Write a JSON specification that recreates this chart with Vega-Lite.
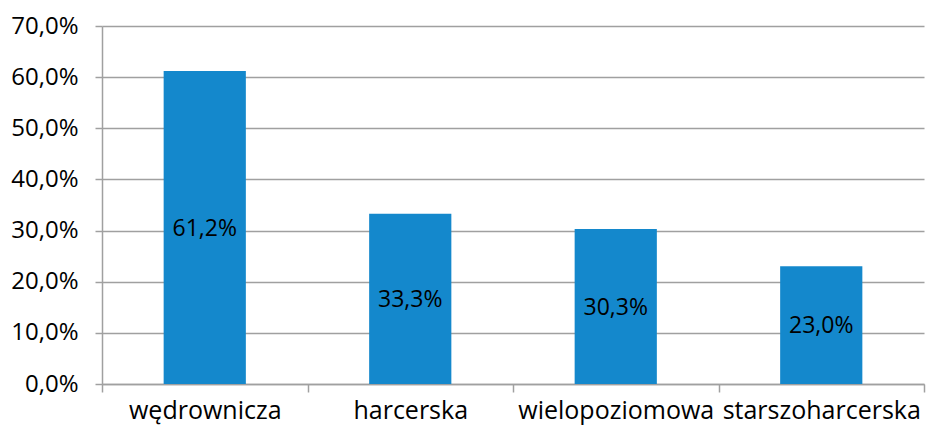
{
  "$schema": "https://vega.github.io/schema/vega-lite/v6.json",
  "width": 822,
  "height": 358,
  "autosize": "none",
  "padding": {"left": 102, "top": 26, "right": 2, "bottom": 46},
  "background": "white",
  "config": {
    "view": {"stroke": null},
    "font": "Open Sans",
    "locale": {"number": {"decimal": ",", "thousands": " ", "grouping": [3], "currency": ["", " zł"]}}
  },
  "data": {
    "values": [
      {"kategoria": "wędrownicza", "wartosc": 0.612},
      {"kategoria": "harcerska", "wartosc": 0.333},
      {"kategoria": "wielopoziomowa", "wartosc": 0.303},
      {"kategoria": "starszoharcerska", "wartosc": 0.23}
    ]
  },
  "encoding": {
    "x": {
      "field": "kategoria",
      "type": "nominal",
      "sort": null,
      "scale": {"paddingInner": 0, "paddingOuter": 0},
      "axis": {
        "title": null,
        "labelAngle": 0,
        "labelFont": "Open Sans",
        "labelFontSize": 25,
        "labelColor": "#000000",
        "labelPadding": 6,
        "labelLimit": 0,
        "labelOverlap": false,
        "tickBand": "extent",
        "tickSize": 8,
        "tickColor": "#A0A0A0",
        "tickWidth": 1.5,
        "domainColor": "#A0A0A0",
        "domainWidth": 1.5,
        "grid": false
      }
    }
  },
  "layer": [
    {
      "mark": {"type": "bar", "color": "#1488CC", "width": {"band": 0.4}},
      "encoding": {
        "y": {
          "field": "wartosc",
          "type": "quantitative",
          "scale": {"domain": [0, 0.7], "nice": false},
          "axis": {
            "title": null,
            "format": ".1%",
            "values": [0, 0.1, 0.2, 0.3, 0.4, 0.5, 0.6, 0.7],
            "labelFont": "Open Sans",
            "labelFontSize": 24,
            "labelColor": "#000000",
            "labelPadding": 17,
            "tickSize": 7,
            "tickColor": "#A0A0A0",
            "tickWidth": 1.5,
            "domainColor": "#A0A0A0",
            "domainWidth": 1.5,
            "grid": true,
            "gridColor": "#A0A0A0",
            "gridWidth": 1.5
          }
        }
      }
    },
    {
      "transform": [{"calculate": "datum.wartosc / 2", "as": "srodek"}],
      "mark": {"type": "text", "fontSize": 23, "color": "#000000", "baseline": "middle", "font": "Open Sans", "dy": 1},
      "encoding": {
        "y": {"field": "srodek", "type": "quantitative"},
        "text": {"field": "wartosc", "type": "quantitative", "format": ".1%"}
      }
    }
  ]
}
